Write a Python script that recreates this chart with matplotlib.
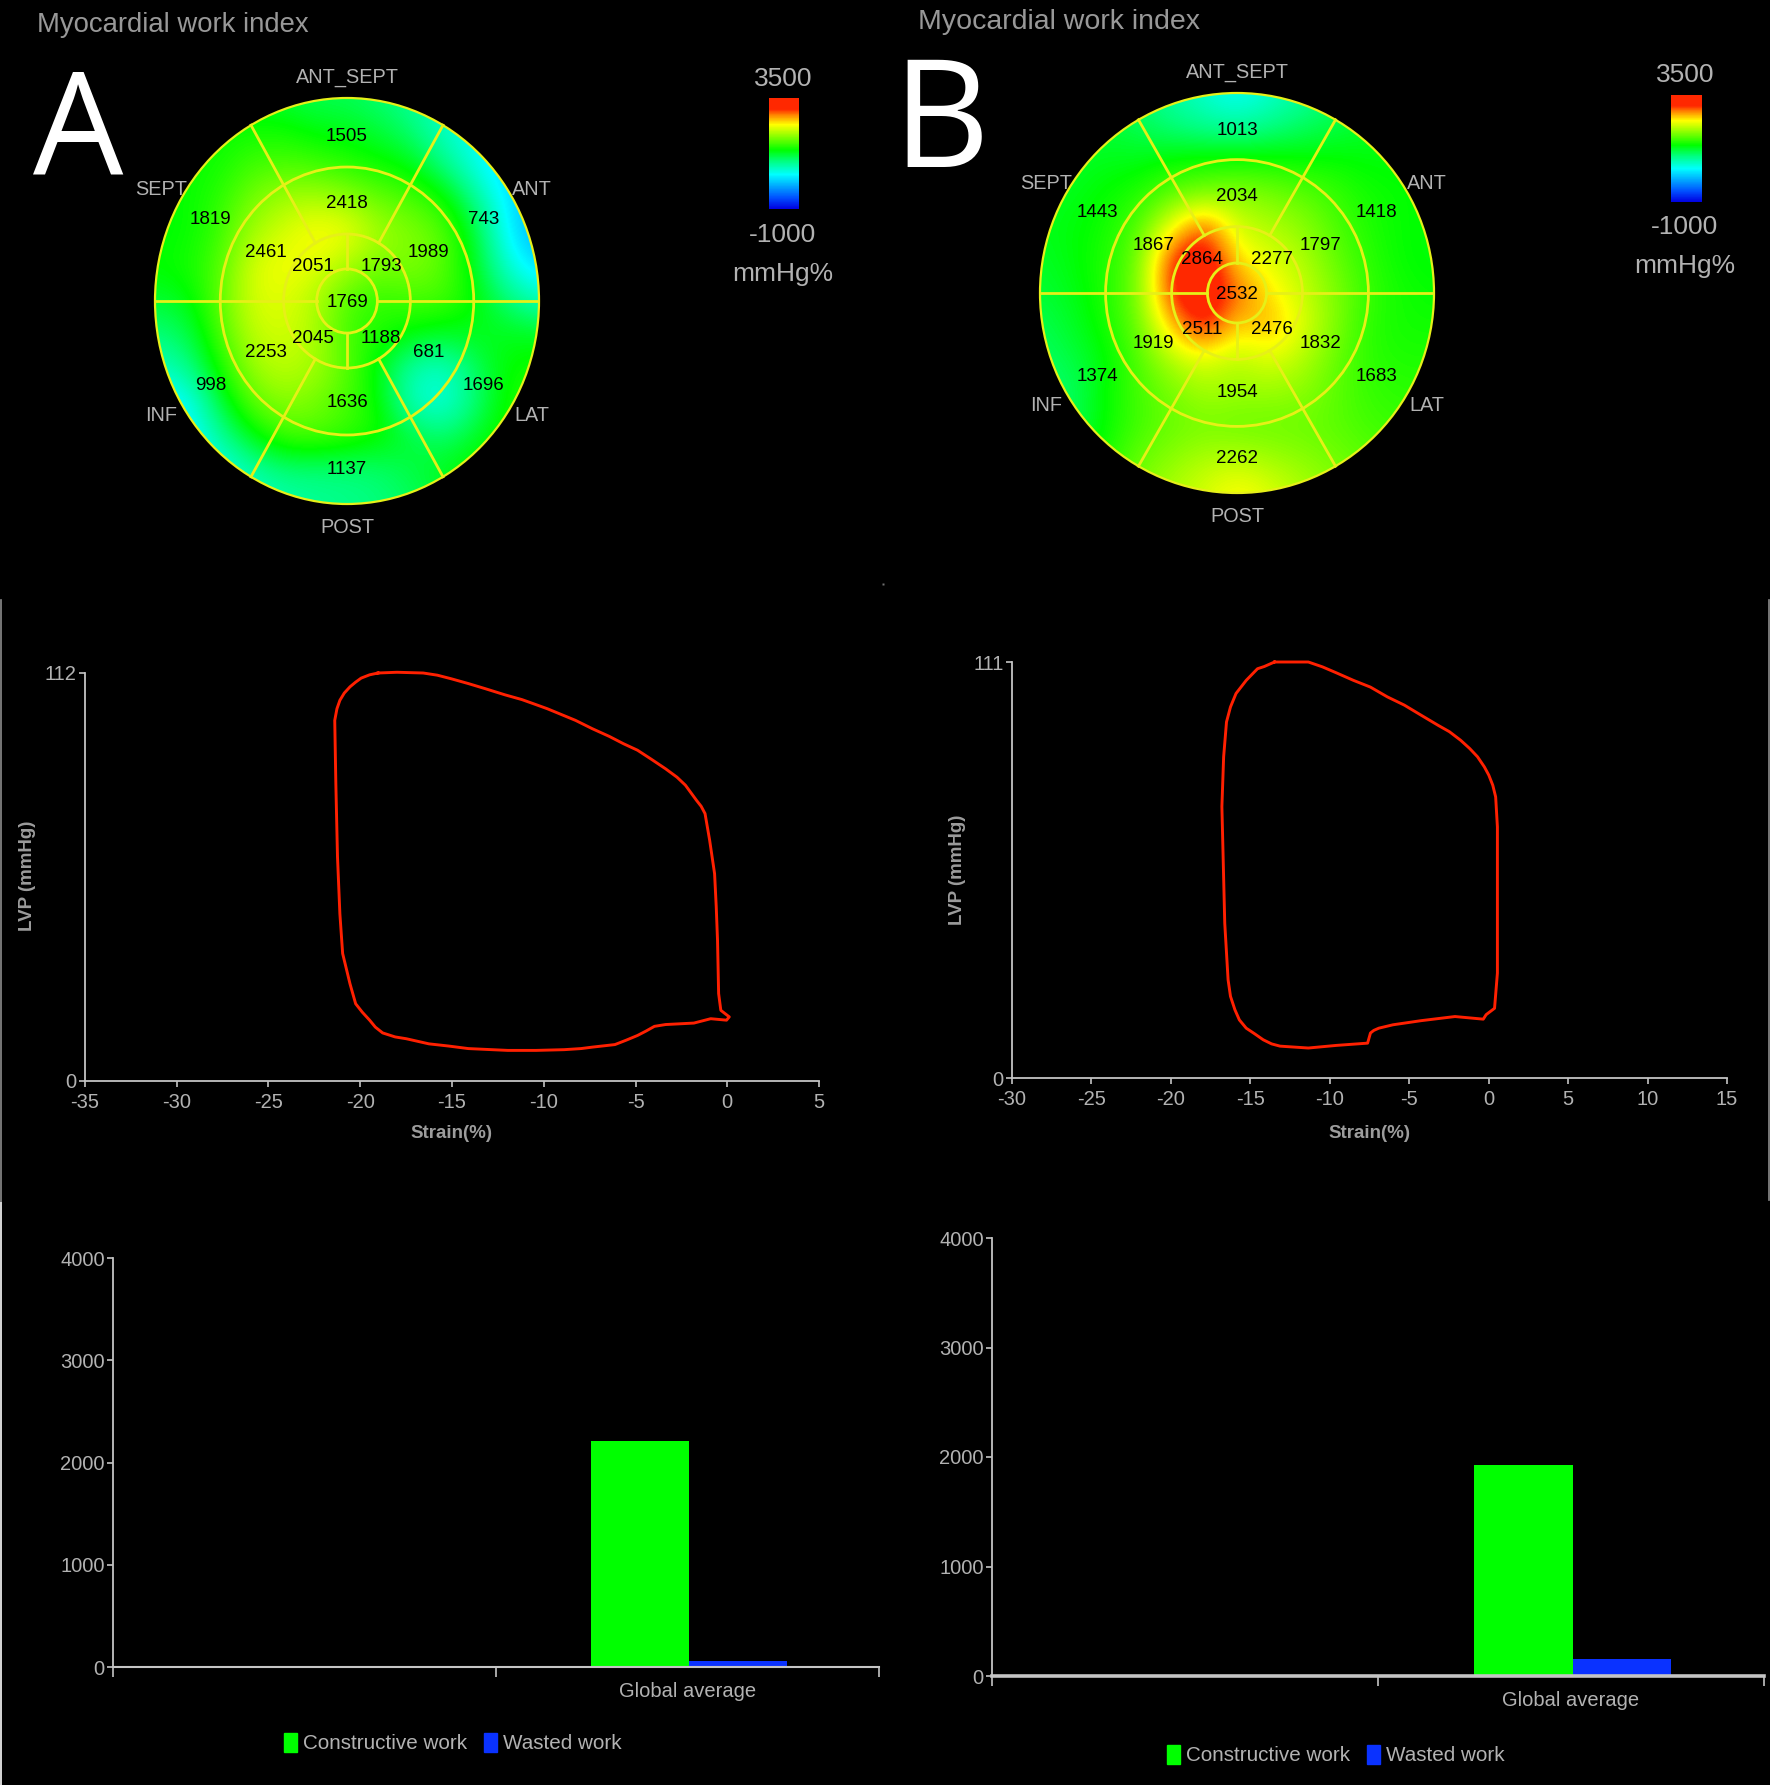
import matplotlib
matplotlib.use('Agg')
import matplotlib.pyplot as plt
import numpy as np
from matplotlib.colors import LinearSegmentedColormap
from matplotlib.lines import Line2D
from matplotlib.patches import Circle, Patch

# --- Bullseye segment values (clockwise from ANT_SEPT) ---
outer_a = [1505, 743, 1696, 1137, 998, 1819]
mid_a = [2418, 1989, 681, 1636, 2253, 2461]
apical_a = [1793, 1188, 2045, 2051]
centre_a = 1769

outer_b = [1013, 1418, 1683, 2262, 1374, 1443]
mid_b = [2034, 1797, 1832, 1954, 1919, 1867]
apical_b = [2277, 2476, 2511, 2864]
centre_b = 2532

wall_names = ['ANT_SEPT', 'ANT', 'LAT', 'POST', 'INF', 'SEPT']

# --- Heat field behind the segments, estimated from the colours (top row first) ---
field_a = [
    [1300, 1300, 1300, 1250, 1200, 1100, 1100, 1000, 850, 650, 450, 350, 350],
    [1400, 1400, 1400, 1450, 1450, 1350, 1300, 1200, 1000, 650, 450, 250, 250],
    [1400, 1400, 1450, 1650, 1700, 1650, 1550, 1450, 1350, 950, 500, 150, 50],
    [1350, 1400, 1550, 1850, 2050, 2100, 2000, 1800, 1700, 1500, 900, 300, 0],
    [1350, 1400, 1600, 2050, 2250, 2450, 2400, 2050, 1900, 1750, 1250, 350, -50],
    [1400, 1450, 1700, 2250, 2400, 2300, 2050, 1850, 1900, 1750, 1300, 600, 200],
    [1200, 1300, 1750, 2250, 2300, 2100, 1700, 1550, 1650, 1650, 1400, 1000, 700],
    [950, 1100, 1650, 2150, 2250, 2100, 1650, 1500, 1350, 1250, 1300, 1300, 1300],
    [650, 850, 1450, 2000, 2150, 2050, 1750, 1300, 750, 600, 1050, 1400, 1450],
    [250, 400, 1150, 1750, 1950, 1850, 1650, 1400, 650, 500, 950, 1450, 1550],
    [200, 300, 800, 1300, 1650, 1700, 1600, 1450, 1200, 1000, 1250, 1500, 1550],
    [250, 250, 450, 750, 950, 950, 950, 1000, 1150, 1300, 1450, 1500, 1600],
    [250, 250, 400, 600, 750, 850, 900, 950, 1050, 1200, 1400, 1500, 1600],
]
field_b = [
    [1100, 1100, 1100, 1000, 800, 600, 400, 600, 800, 1000, 1100, 1100, 1100],
    [1100, 1150, 1200, 1100, 950, 850, 800, 900, 1050, 1150, 1250, 1300, 1300],
    [1200, 1250, 1300, 1300, 1400, 1450, 1450, 1450, 1400, 1400, 1350, 1350, 1350],
    [1250, 1300, 1400, 1500, 1750, 1850, 1950, 1850, 1750, 1600, 1450, 1400, 1350],
    [1300, 1350, 1450, 1700, 2350, 3000, 2200, 2100, 1950, 1700, 1500, 1400, 1350],
    [1250, 1350, 1500, 1800, 3100, 3400, 2500, 2300, 2100, 1800, 1550, 1400, 1350],
    [1200, 1300, 1500, 1850, 3100, 3400, 2900, 2500, 2200, 1900, 1600, 1450, 1400],
    [1100, 1250, 1450, 1800, 2600, 3200, 2500, 2700, 2300, 1900, 1550, 1450, 1450],
    [1050, 1150, 1350, 1700, 2100, 2300, 2100, 2300, 2100, 1800, 1550, 1500, 1500],
    [950, 1050, 1400, 1650, 1850, 2050, 2000, 2000, 1950, 1750, 1600, 1550, 1550],
    [950, 1100, 1400, 1650, 1800, 1850, 1800, 1800, 1800, 1750, 1650, 1600, 1600],
    [1050, 1250, 1500, 1800, 1950, 2100, 2150, 2050, 1950, 1850, 1750, 1700, 1700],
    [1100, 1300, 1600, 1900, 2100, 2250, 2450, 2300, 2100, 1950, 1800, 1700, 1700],
]

# --- Pressure-strain loops ---
strain_a = [-19.03, -18, -16.57, -15.8, -15.03, -14.11, -13.19, -12.11, -11.19, -10.58, -9.81, -8.27, -7.35,
            -6.43, -5.66, -4.89, -4.13, -3.36, -2.74, -2.28, -1.67, -1.42, -1.21, -0.96, -0.69, -0.6, -0.53,
            -0.47, -0.35, 0.11, -0.04, -0.9, -1.82, -3.36, -3.97, -4.43, -4.89, -5.51, -6.12, -7.35, -7.97,
            -8.89, -10.42, -11.96, -14.11, -15.19, -16.26, -17.49, -18.1, -18.78, -19.18, -19.49, -19.89,
            -20.25, -20.56, -20.96, -21.11, -21.24, -21.33, -21.39, -21.27, -21.11, -20.87, -20.56, -20.25,
            -19.95, -19.49, -19.03]
lvp_a = [112, 112.2, 112, 111.4, 110.4, 109.1, 107.7, 106, 104.7, 103.6, 102.2, 99, 96.7,
         94.6, 92.6, 90.8, 88.3, 85.7, 83.4, 81.2, 77, 75.4, 73.4, 66.1, 56.9, 47.8, 38.6,
         24, 19.4, 17.6, 16.7, 17.1, 15.9, 15.5, 15, 13.7, 12.5, 11.2, 10, 9.3, 8.9,
         8.6, 8.4, 8.4, 8.9, 9.6, 10.2, 11.6, 12.1, 13.2, 14.8, 16.7, 18.9,
         21.2, 26.7, 35, 45.9, 61.5, 81.6, 99, 102.2, 104.5, 106.5, 108.2, 109.5,
         110.6, 111.5, 112]

strain_b = [-13.48, -11.35, -10.46, -9.58, -8.51, -7.44, -6.38, -5.31, -4.25, -3.18, -2.47, -1.76, -1.19,
            -0.7, -0.27, 0.01, 0.26, 0.44, 0.55, 0.55, 0.55, 0.37, -0.16, -0.34, -2.12, -4.25, -6.02,
            -6.91, -7.23, -7.44, -7.62, -9.58, -11.35, -12.42, -13.13, -13.66, -14.19, -14.73, -15.26,
            -15.69, -15.97, -16.25, -16.4, -16.61, -16.79, -16.68, -16.5, -16.25, -15.9, -15.26, -14.55,
            -14.12, -13.48]
lvp_b = [111, 111, 109.7, 108.1, 106.1, 104.3, 101.7, 99.5, 96.8, 94.1, 92.4, 90.1, 87.9,
         85.7, 83, 80.8, 78.1, 75, 67, 45.7, 28, 18.6, 16.9, 15.7, 16.4, 15.3, 14.2,
         13.3, 12.7, 12, 9.3, 8.7, 8, 8.3, 8.5, 9.1, 10.2, 11.8, 13.3,
         15.5, 18.2, 21.8, 26.2, 41.3, 72.4, 85.7, 95, 99, 102.6, 106.1, 109.2,
         109.8, 111]

x_ticks_a = [-35, -30, -25, -20, -15, -10, -5, 0, 5]
x_ticks_b = [-30, -25, -20, -15, -10, -5, 0, 5, 10, 15]

# --- Work bars ---
bar_categories = ['', 'Global average']
constructive_a = [0, 2210]
wasted_a = [0, 62]
constructive_b = [0, 1926]
wasted_b = [0, 158]
bar_ticks = [0, 1000, 2000, 3000, 4000]

W, H = 1770, 1785
FONT = 'Liberation Sans'
TEXT_COL = '#b2b2b2'
AXIS_COL = '#c4c4c4'
RING_COL = '#e6f018'
GREEN = '#00ff00'
BLUE = '#0a32ff'
FS = 14.5

plt.rcParams['font.family'] = [FONT, 'DejaVu Sans']

work_cmap = LinearSegmentedColormap.from_list('work', [
    (0.00, '#0000e0'), (0.10, '#0050ff'), (0.31, '#00ffff'), (0.43, '#00ff80'),
    (0.53, '#00ff00'), (0.76, '#ffff00'), (0.84, '#ff9000'), (0.90, '#ff2800'), (1.00, '#ff2800')])

fig = plt.figure(figsize=(W / 100, H / 100), dpi=100, facecolor='black')


def px_axes(left, top, right, bottom):
    """Axes placed by reference pixel box."""
    ax = fig.add_axes([left / W, 1 - bottom / H, (right - left) / W, (bottom - top) / H])
    ax.set_facecolor('none')
    return ax


def px_text(x, y, s, **kw):
    kw.setdefault('color', TEXT_COL)
    kw.setdefault('fontsize', FS)
    kw.setdefault('ha', 'center')
    kw.setdefault('va', 'center')
    return fig.text(x / W, 1 - y / H, s, **kw)


def draw_bullseye(box, rings, field, outer, mid, apical, centre):
    ax = px_axes(*box)
    ax.set_xlim(-1, 1)
    ax.set_ylim(-1, 1)
    ax.axis('off')

    # heat field, smoothed by imshow and clipped to the disc
    half = 1 + 1 / 12
    im = ax.imshow(np.array(field, dtype=float), cmap=work_cmap, vmin=-1000, vmax=3500, aspect='auto',
                   extent=(-half, half, -half, half), origin='upper',
                   interpolation='bicubic', interpolation_stage='data')
    disc = Circle((0, 0), 1, transform=ax.transData)
    im.set_clip_path(disc)

    # segment lines
    r_mid, r_api, r_in = rings
    ax.add_patch(Circle((0, 0), 1, fc='none', ec=RING_COL, lw=1.6, clip_on=False))
    for r in rings:
        ax.add_patch(Circle((0, 0), r, fc='none', ec=RING_COL, lw=2.0))
    for ang in [60, 120, 240, 300]:
        t = np.deg2rad(ang)
        ax.plot([r_api * np.cos(t), np.cos(t)], [r_api * np.sin(t), np.sin(t)], color=RING_COL, lw=2.0)
    for sign in [-1, 1]:
        ax.plot([sign * r_in, sign], [0, 0], color=RING_COL, lw=2.0)
        ax.plot([0, 0], [sign * r_in, sign * r_api], color=RING_COL, lw=2.0)

    # segment numbers
    seg_fs = 13.5
    dy = -0.008
    for i, ang in enumerate([90, 30, -30, -90, -150, 150]):
        t = np.deg2rad(ang)
        ax.text(0.82 * np.cos(t), 0.82 * np.sin(t) + dy, str(outer[i]), ha='center', va='center',
                fontsize=seg_fs, color='black')
        ax.text(0.49 * np.cos(t), 0.49 * np.sin(t) + dy, str(mid[i]), ha='center', va='center',
                fontsize=seg_fs, color='black')
    for i, ang in enumerate([45, -45, -135, 135]):
        t = np.deg2rad(ang)
        ax.text(0.25 * np.cos(t), 0.25 * np.sin(t) + dy, str(apical[i]), ha='center', va='center',
                fontsize=seg_fs, color='black')
    ax.text(0, dy, str(centre), ha='center', va='center', fontsize=seg_fs, color='black')

    # wall names round the disc
    spots = [(0, 1.11), (0.965, 0.555), (0.965, -0.555), (0, -1.11), (-0.967, -0.555), (-0.97, 0.555)]
    for name, (x, y) in zip(wall_names, spots):
        ax.text(x, y + dy, name, ha='center', va='center', fontsize=14.3, color=TEXT_COL)
    return im


def draw_colorbar(im, box, label_x, label_ys):
    cax = px_axes(*box)
    cb = fig.colorbar(im, cax=cax)
    cb.set_ticks([])
    cb.outline.set_visible(False)
    for y, s in zip(label_ys, ['3500', '-1000', 'mmHg%']):
        px_text(label_x, y + 1.5, s, fontsize=19)


def style_axes(ax, x_lw=1.3):
    for side in ['top', 'right']:
        ax.spines[side].set_visible(False)
    ax.spines['left'].set_color(AXIS_COL)
    ax.spines['left'].set_linewidth(1.3)
    ax.spines['bottom'].set_color(AXIS_COL)
    ax.spines['bottom'].set_linewidth(x_lw)
    ax.tick_params(colors=AXIS_COL, labelcolor=TEXT_COL, labelsize=FS, length=4, width=1.2, pad=2)


def draw_loop(box, strain, lvp, x_ticks, y_top):
    ax = px_axes(*box)
    ax.plot(strain, lvp, color='#ff2000', lw=2.1, clip_on=False, solid_joinstyle='round')
    ax.set_xlim(x_ticks[0], x_ticks[-1])
    ax.set_ylim(0, y_top)
    ax.set_xticks(x_ticks)
    ax.set_xticklabels([str(v) for v in x_ticks])
    ax.set_yticks([0, y_top])
    style_axes(ax)
    ax.tick_params(axis='x', pad=4.5)
    return ax


def draw_bars(box, constructive, wasted, x_lw):
    ax = px_axes(*box)
    pos = np.arange(len(bar_categories))
    bw = 0.255
    split = pos + 0.004
    ax.bar(split - bw / 2, constructive, bw, color=GREEN)
    ax.bar(split + bw / 2, wasted, bw, color=BLUE)
    ax.set_xlim(-0.5, 1.5)
    ax.set_ylim(0, 4000)
    ax.set_yticks(bar_ticks)
    ax.set_xticks([-0.5, 0.5, 1.5])
    ax.set_xticklabels([])
    ax.set_xticks(pos, minor=True)
    ax.set_xticklabels(bar_categories, minor=True)
    style_axes(ax, x_lw)
    ax.tick_params(axis='x', which='minor', length=0, pad=11, labelsize=FS, labelcolor=TEXT_COL)
    ax.tick_params(axis='x', which='major', length=7)
    return ax


# --- Titles and panel letters ---
px_text(37, 25, 'Myocardial work index', ha='left', fontsize=19.8, color='#989898')
px_text(918, 22, 'Myocardial work index', ha='left', fontsize=20.5, color='#989898')
px_text(78, 136, 'A', color='white', fontsize=103, family='Open Sans')
px_text(941, 128, 'B', color='white', fontsize=108, family='Open Sans')

# --- Bullseyes ---
im_a = draw_bullseye((155, 98, 539, 504), (0.66, 0.33, 0.158), field_a, outer_a, mid_a, apical_a, centre_a)
im_b = draw_bullseye((1040, 93, 1434, 493), (0.667, 0.332, 0.15), field_b, outer_b, mid_b, apical_b, centre_b)
draw_colorbar(im_a, (769, 98, 799, 209), 783, (77, 233, 272))
draw_colorbar(im_b, (1671, 95, 1702, 202), 1685, (73, 225, 265))

# --- Pressure-strain loops ---
draw_loop((85, 673, 819, 1081), strain_a, lvp_a, x_ticks_a, 112)
draw_loop((1012, 662, 1727, 1078), strain_b, lvp_b, x_ticks_b, 111)
px_text(451, 1134, 'Strain(%)', fontweight='bold', fontsize=13.5, color='#9c9c9c')
px_text(27, 876, 'LVP (mmHg)', rotation=90, fontweight='bold', fontsize=13.5, color='#9c9c9c')
px_text(1369, 1133, 'Strain(%)', fontweight='bold', fontsize=13.5, color='#9c9c9c')
px_text(957, 870, 'LVP (mmHg)', rotation=90, fontweight='bold', fontsize=13.5, color='#9c9c9c')

# --- Work bars and legends ---
ax_bar_a = draw_bars((113, 1258, 879, 1667), constructive_a, wasted_a, 1.5)
ax_bar_b = draw_bars((992, 1238, 1764, 1676), constructive_b, wasted_b, 2.6)
handles = [Patch(color=GREEN, label='Constructive work'), Patch(color=BLUE, label='Wasted work')]
for cx, cy in [(453, 1743), (1336, 1755)]:
    fig.legend(handles=handles, loc='center', bbox_to_anchor=(cx / W, 1 - cy / H), ncol=2, frameon=False,
               fontsize=14.9, labelcolor=TEXT_COL, handlelength=0.63, handleheight=1.1,
               handletextpad=0.3, columnspacing=0.8)

# --- Thin edge lines of the pasted screenshots, and the stray dot between them ---
fig.add_artist(Line2D([0.0006, 0.0006], [1 - 600 / H, 1 - 1203 / H], color='#8c8c8c', lw=1.2))
fig.add_artist(Line2D([0.0006, 0.0006], [1 - 1203 / H, 0], color='#d8d8d8', lw=1.4))
fig.add_artist(Line2D([1 - 0.0006, 1 - 0.0006], [1 - 600 / H, 1 - 1200 / H], color='#8c8c8c', lw=1.2))
fig.add_artist(Line2D([883 / W], [1 - 584 / H], marker='s', ms=1.5, mec='none', mfc='#707070'))

fig.savefig('out.png', dpi=100, facecolor='black')
